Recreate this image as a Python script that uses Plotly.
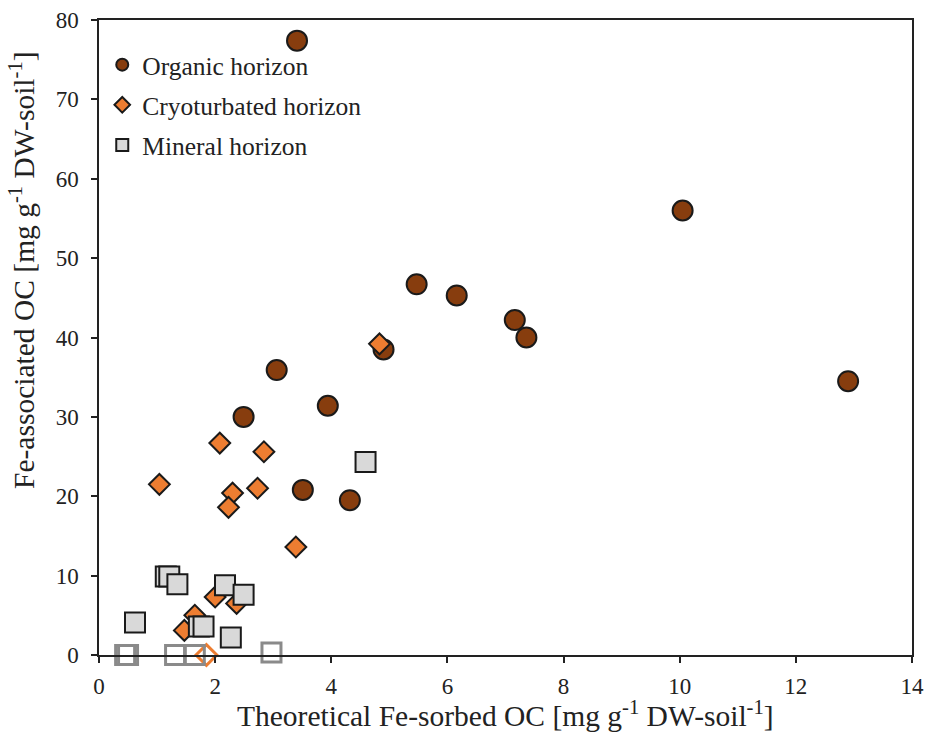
import plotly.graph_objects as go

# Organic horizon samples
organic_x = [3.41, 10.05, 12.90, 5.47, 6.16, 7.16, 7.36, 4.90, 3.06, 3.94, 2.49, 3.51, 4.32]
organic_y = [77.4, 56.0, 34.5, 46.7, 45.3, 42.2, 40.0, 38.5, 35.9, 31.4, 30.0, 20.8, 19.5]

# Cryoturbated horizon samples
cryo_x = [4.83, 2.08, 2.84, 1.04, 2.73, 2.30, 2.23, 3.39, 2.00, 2.37, 1.65, 1.47]
cryo_y = [39.2, 26.7, 25.6, 21.5, 21.0, 20.4, 18.6, 13.6, 7.3, 6.5, 5.0, 3.1]
cryo_zero_x = [1.85]
cryo_zero_y = [0.0]

# Mineral horizon samples
mineral_x = [4.59, 1.15, 1.21, 1.35, 2.17, 2.49, 0.62, 1.72, 1.80, 2.27]
mineral_y = [24.3, 9.9, 9.9, 8.9, 8.8, 7.6, 4.1, 3.6, 3.6, 2.2]
mineral_zero_x = [0.45, 0.50, 1.31, 1.65, 2.97]
mineral_zero_y = [0.0, 0.0, 0.0, 0.0, 0.3]

x_title = "Theoretical Fe-sorbed OC [mg g<sup>-1</sup> DW-soil<sup>-1</sup>]"
y_title = "Fe-associated OC [mg g<sup>-1</sup> DW-soil<sup>-1</sup>]"

FONT = "Liberation Serif"
EDGE = "#1a1a1a"
INK = "#222222"

fig = go.Figure()

fig.add_trace(go.Scatter(
    x=organic_x, y=organic_y, mode="markers", name="Organic horizon",
    legendgroup="organic",
    marker=dict(symbol="circle", size=20, color="#873D0E",
                line=dict(color=EDGE, width=2)),
    cliponaxis=False,
))
fig.add_trace(go.Scatter(
    x=cryo_x, y=cryo_y, mode="markers", name="Cryoturbated horizon",
    legendgroup="cryo",
    marker=dict(symbol="diamond", size=16, color="#ED7D31",
                line=dict(color=EDGE, width=2)),
    cliponaxis=False,
))
fig.add_trace(go.Scatter(
    x=cryo_zero_x, y=cryo_zero_y, mode="markers", showlegend=False,
    legendgroup="cryo",
    marker=dict(symbol="diamond-open", size=16, color="#ED7D31",
                line=dict(color="#ED7D31", width=3)),
    cliponaxis=False,
))
fig.add_trace(go.Scatter(
    x=mineral_x, y=mineral_y, mode="markers", name="Mineral horizon",
    legendgroup="mineral",
    marker=dict(symbol="square", size=20, color="#D9D9D9",
                line=dict(color=EDGE, width=2)),
    cliponaxis=False,
))
fig.add_trace(go.Scatter(
    x=mineral_zero_x, y=mineral_zero_y, mode="markers", showlegend=False,
    legendgroup="mineral",
    marker=dict(symbol="square-open", size=19, color="#8A8A8A",
                line=dict(color="#8A8A8A", width=3)),
    cliponaxis=False,
))

axis_common = dict(
    automargin=False,
    showline=True, linecolor=INK, linewidth=1.5, mirror=True,
    showgrid=False, zeroline=False,
    ticks="outside", ticklen=6, tickwidth=1.5, tickcolor=INK,
    tickfont=dict(family=FONT, size=23, color=INK),
)

fig.update_xaxes(range=[0, 14], dtick=2, tick0=0, ticklabelstandoff=4, **axis_common)
fig.update_yaxes(range=[0, 80], dtick=10, tick0=0, ticklabelstandoff=8, **axis_common)

# horizontal axis title, centred under the plot
fig.add_annotation(
    text=x_title, showarrow=False,
    xref="paper", yref="paper", x=0.5, y=-0.093,
    xanchor="center", yanchor="middle",
    font=dict(family=FONT, size=29.5, color=INK),
)
# vertical axis title, set a little above the plot's middle
fig.add_annotation(
    text=y_title, textangle=-90, showarrow=False,
    xref="paper", yref="paper", x=-0.095, y=0.606,
    xanchor="center", yanchor="middle",
    font=dict(family=FONT, size=29.5, color=INK),
)

fig.update_layout(
    width=927, height=742,
    margin=dict(l=99, r=15, t=20, b=87),
    paper_bgcolor="white", plot_bgcolor="white",
    font=dict(family=FONT, color=INK),
    legend=dict(
        x=0.004, y=0.966, xanchor="left", yanchor="top",
        font=dict(family=FONT, size=25.5, color=INK),
        bgcolor="rgba(255,255,255,0)", itemwidth=30,
        itemsizing="constant", traceorder="grouped", tracegroupgap=4,
    ),
)

fig.write_html("out.html")
